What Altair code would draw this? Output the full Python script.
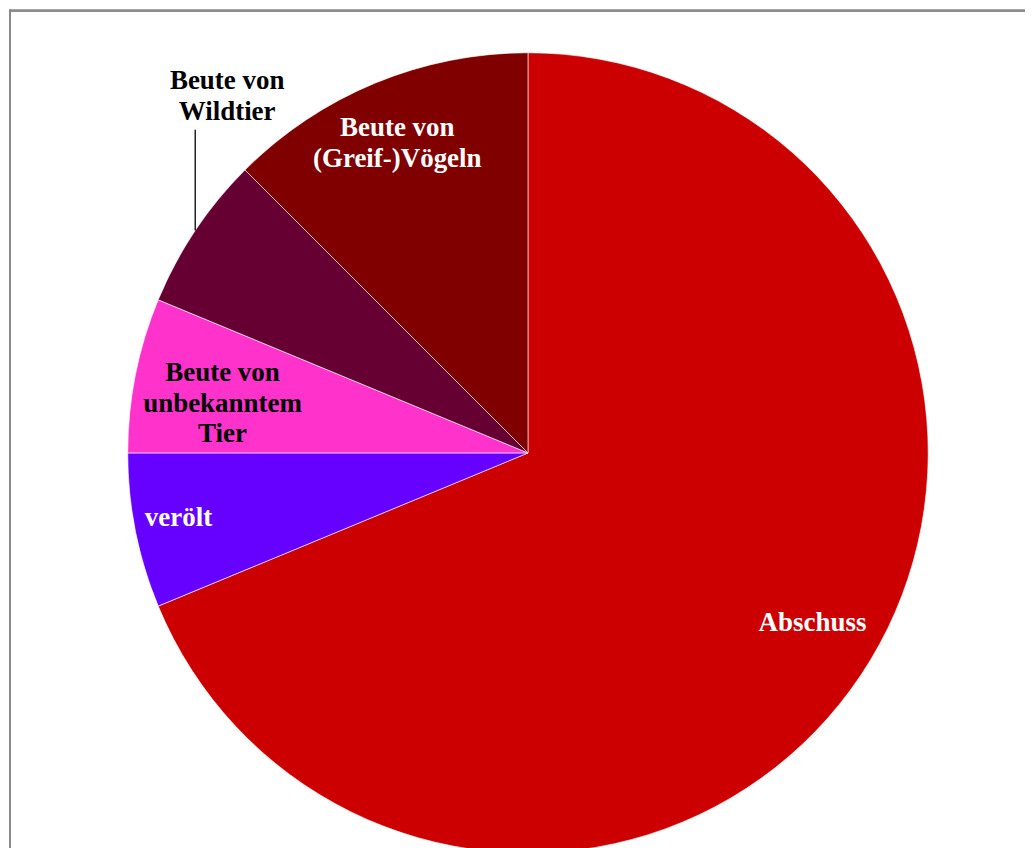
import math
import altair as alt
import pandas as pd

categories = ["Abschuss", "verölt", "Beute von unbekanntem Tier",
              "Beute von Wildtier", "Beute von (Greif-)Vögeln"]
values = [11, 1, 1, 1, 2]
labels = ["Abschuss", "verölt", "Beute von\nunbekanntem\nTier",
          "Beute von\nWildtier", "Beute von\n(Greif-)Vögeln"]
colors = ["#CC0000", "#6600FF", "#FF33CC", "#660033", "#800000"]

W, H = 1018, 840
CX, CY, R = 520, 444, 401

total = sum(values)
starts, ends = [], []
acc = 0.0
for v in values:
    starts.append(acc / total * 2 * math.pi)
    acc += v
    ends.append(acc / total * 2 * math.pi)
mids = [(s + e) / 2 for s, e in zip(starts, ends)]

df = pd.DataFrame({
    "idx": list(range(len(categories))),
    "cat": categories,
    "value": values,
    "label": labels,
    "start": starts,
    "end": ends,
    "mid": mids,
})

base = alt.Chart(df)

pie = base.mark_arc(radius=R, stroke="#ffffff", strokeWidth=0.6, clip=True).encode(
    x=alt.value(CX),
    y=alt.value(CY),
    theta=alt.Theta("start:Q", scale=None),
    theta2=alt.Theta2("end:Q"),
    color=alt.Color("cat:N", scale=alt.Scale(domain=categories, range=colors), legend=None),
)

# label layout: (radius, dx, dy, colour)
label_style = {
    0: (332, 9, -14, "#ffffff"),
    1: (356, -1, -4, "#ffffff"),
    2: (310, -2, -20, "#000000"),
    3: (R, 32, -149.5, "#000000"),
    4: (337, -2, -14.5, "#ffffff"),
}

texts = []
for i, (r, dx, dy, col) in label_style.items():
    texts.append(
        base.transform_filter(alt.datum.idx == i).mark_text(
            radius=r, dx=dx, dy=dy, color=col, font="Liberation Serif",
            fontWeight="bold", fontSize=27, lineBreak="\n", lineHeight=31,
            align="center", baseline="middle",
        ).encode(
            x=alt.value(CX),
            y=alt.value(CY),
            theta=alt.Theta("mid:Q", scale=None),
            text="label:N",
        )
    )

# leader line for the outside label (Beute von Wildtier)
wi = 3
lx = CX + R * math.sin(mids[wi])
ly1 = CY - R * math.cos(mids[wi])
leader_df = pd.DataFrame({"x": [lx], "y": [ly1], "y2": [ly1 - 101]})
leader = alt.Chart(leader_df).mark_rule(color="#000000", strokeWidth=1.3).encode(
    x=alt.X("x:Q", scale=None),
    y=alt.Y("y:Q", scale=None),
    y2="y2:Q",
)

border_left = alt.Chart(df).mark_rule(color="#8a8a8a", strokeWidth=1.6).encode(
    x=alt.value(1.2), y=alt.value(0), y2=alt.value(H)
)
border_top = alt.Chart(df).mark_rule(color="#8a8a8a", strokeWidth=1.6).encode(
    x=alt.value(0), x2=alt.value(W), y=alt.value(0.8)
)

chart = alt.layer(pie, *texts, leader, border_left, border_top).properties(
    width=W, height=H, padding=0, background="#ffffff"
).configure_view(stroke=None)

chart.save("out.html", embed_options={"renderer": "svg", "actions": False})
